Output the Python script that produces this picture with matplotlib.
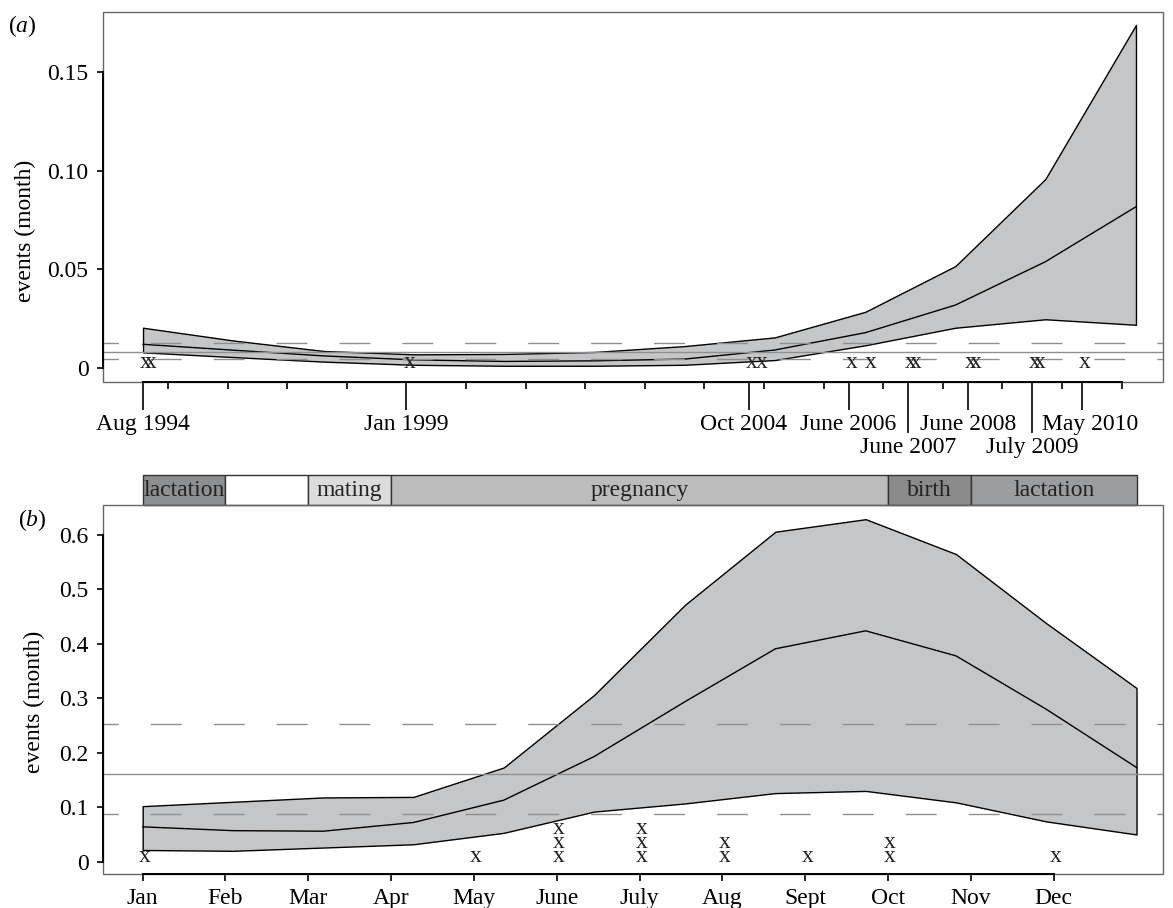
import matplotlib
matplotlib.use('Agg')
import matplotlib.pyplot as plt
from matplotlib.patches import Rectangle
from matplotlib.transforms import ScaledTranslation

plt.rcParams['font.family'] = ['Liberation Serif', 'DejaVu Serif']
plt.rcParams['font.size'] = 17
plt.rcParams['mathtext.fontset'] = 'custom'
plt.rcParams['mathtext.rm'] = 'Liberation Serif'
plt.rcParams['mathtext.it'] = 'Liberation Serif:italic'

##
# (a) monthly event rate through time
##
time_nodes = [1994.58, 1996.10, 1997.61, 1999.12, 2000.64, 2002.15,
              2003.67, 2005.18, 2006.70, 2008.21, 2009.72, 2011.24]
rate_upper_a = [0.0203, 0.0138, 0.0085, 0.0068, 0.0070, 0.0080,
                0.0110, 0.0154, 0.0284, 0.0516, 0.0958, 0.1740]
rate_mid_a = [0.0119, 0.0089, 0.0060, 0.0040, 0.0032, 0.0035,
              0.0044, 0.0090, 0.0178, 0.0318, 0.0538, 0.0817]
rate_lower_a = [0.0078, 0.0054, 0.0031, 0.0015, 0.0010, 0.0010,
                0.0015, 0.0039, 0.0114, 0.0203, 0.0246, 0.0218]
mean_a = 0.0078
ci_a = [0.0043, 0.0124]

# observed events (year, month)
event_dates = [(1994, 8), (1994, 9), (1999, 1), (2004, 10), (2004, 12),
               (2006, 6), (2006, 10), (2007, 6), (2007, 7), (2008, 6),
               (2008, 7), (2009, 7), (2009, 8), (2010, 5)]
date_ticks = [(1994, 8), (1999, 1), (2004, 10), (2006, 6), (2008, 6), (2010, 5)]
date_labels = ['Aug 1994', 'Jan 1999', 'Oct 2004', 'June 2006', 'June 2008', 'May 2010']
date_ticks_low = [(2007, 6), (2009, 7)]
date_labels_low = ['June 2007', 'July 2009']
year_ticks = list(range(1995, 2012))

##
# (b) seasonal event rate
##
month_nodes = [1.0, 2.09, 3.18, 4.27, 5.36, 6.45, 7.55, 8.64, 9.73, 10.82, 11.91, 13.0]
rate_upper_b = [0.102, 0.110, 0.118, 0.119, 0.173, 0.306,
                0.472, 0.606, 0.629, 0.565, 0.438, 0.319]
rate_mid_b = [0.064, 0.057, 0.056, 0.072, 0.113, 0.193,
              0.294, 0.391, 0.424, 0.378, 0.280, 0.173]
rate_lower_b = [0.0215, 0.020, 0.026, 0.032, 0.053, 0.092,
                0.107, 0.126, 0.130, 0.109, 0.074, 0.050]
mean_b = 0.1605
ci_b = [0.0882, 0.253]
month_labels = ['Jan', 'Feb', 'Mar', 'Apr', 'May', 'June',
                'July', 'Aug', 'Sept', 'Oct', 'Nov', 'Dec']

phase_names = ['lactation', '', 'mating', 'pregnancy', 'birth', 'lactation']
phase_start = [1, 2, 3, 4, 10, 11]
phase_end = [2, 3, 4, 10, 11, 13]
phase_colors = ['#8e8f91', '#ffffff', '#dcdcdc', '#bcbcbc', '#8a8a8a', '#9b9c9e']

band_col = '#c5c6c8'
box_col = '#666666'
ref_col = '#8f8f8f'
dash = (11.3, (22.3, 23.0))


def dec_year(d):
    return d[0] + (d[1] - 1) / 12.


def r_box(ax):
    # light frame round the plot region, R style
    ax.add_patch(Rectangle((0, 0), 1, 1, transform=ax.transAxes, fill=False,
                           edgecolor=box_col, linewidth=1, clip_on=False, zorder=5))
    ax.spines[['top', 'right']].set_visible(False)
    for s in ('left', 'bottom'):
        ax.spines[s].set_linewidth(1.4)
        ax.spines[s].set_zorder(6)
    ax.tick_params(axis='y', direction='out', length=4.5, width=1.2, pad=6.0)
    ax.tick_params(axis='x', which='both', direction='out', width=1.2)


fig = plt.figure(figsize=(11.73, 9.08), dpi=100)
ax_a = fig.add_axes([0.0878, 0.5796, 0.9037, 0.4075])
ax_b = fig.add_axes([0.0878, 0.0369, 0.9037, 0.4069])

##
# Panel (a)
##
ax_a.fill_between(time_nodes, rate_lower_a, rate_upper_a, facecolor=band_col,
                  edgecolor='black', linewidth=1.0, zorder=2)
ax_a.plot(time_nodes, rate_mid_a, color='black', linewidth=1.0, zorder=3)
ax_a.axhline(mean_a, color=ref_col, linewidth=1.0, zorder=4)
for v in ci_a:
    ax_a.axhline(v, color=ref_col, linewidth=1.0, linestyle=dash, zorder=4)
for d in event_dates:
    ax_a.annotate('x', (dec_year(d), 0), xytext=(2, 3.6), textcoords='offset points',
                  ha='center', va='center', fontsize=17, color='#222222', zorder=5)

ax_a.set_xlim(1993.908, 2011.694)
ax_a.set_ylim(-0.0071, 0.1807)
r_box(ax_a)
ax_a.spines['left'].set_bounds(0, 0.15)
ax_a.spines['bottom'].set_bounds(dec_year(date_ticks[0]), year_ticks[-1])
ax_a.set_yticks([0, 0.05, 0.10, 0.15], ['0', '0.05', '0.10', '0.15'])
ax_a.set_xticks([dec_year(d) for d in date_ticks], date_labels)
ax_a.set_xticks(year_ticks, minor=True)
ax_a.tick_params(axis='x', which='major', length=20.4, pad=3.0)
ax_a.tick_params(axis='x', which='minor', length=4.8)
# nudge two crowded labels as in the original
for lab, dx in zip(ax_a.get_xticklabels(), [0, 0, -6, 0, 0, 8]):
    lab.set_transform(lab.get_transform() + ScaledTranslation(dx / 100., 0, fig.dpi_scale_trans))

sec = ax_a.secondary_xaxis('bottom')
sec.set_xticks([dec_year(d) for d in date_ticks_low], date_labels_low)
sec.tick_params(axis='x', direction='out', length=36.7, width=1.2, pad=3.0)
sec.spines['bottom'].set_visible(False)

ax_a.set_ylabel('events (month)')
ax_a.yaxis.label.set_verticalalignment('center')
ax_a.yaxis.set_label_coords(-0.0731, 0.407)

##
# Panel (b)
##
ax_b.fill_between(month_nodes, rate_lower_b, rate_upper_b, facecolor=band_col,
                  edgecolor='black', linewidth=1.0, zorder=2)
ax_b.plot(month_nodes, rate_mid_b, color='black', linewidth=1.0, zorder=3)
ax_b.axhline(mean_b, color=ref_col, linewidth=1.0, zorder=4)
for v in ci_b:
    ax_b.axhline(v, color=ref_col, linewidth=1.0, linestyle=dash, zorder=4)

stack = {}
for d in event_dates:
    n = stack.get(d[1], 0)
    stack[d[1]] = n + 1
    ax_b.annotate('x', (d[1], 0), xytext=(1.5, 3.6 + 10.3 * n), textcoords='offset points',
                  ha='center', va='center', fontsize=17, color='#222222', zorder=5)

ax_b.set_xlim(0.521, 13.32)
ax_b.set_ylim(-0.0235, 0.655)
r_box(ax_b)
ax_b.spines['left'].set_bounds(0, 0.6)
ax_b.spines['bottom'].set_bounds(1, 12)
ax_b.set_yticks([0, 0.1, 0.2, 0.3, 0.4, 0.5, 0.6], ['0', '0.1', '0.2', '0.3', '0.4', '0.5', '0.6'])
ax_b.set_xticks(range(1, 13), month_labels)
ax_b.tick_params(axis='x', length=4.7, pad=5.0)

ax_b.set_ylabel('events (month)')
ax_b.yaxis.label.set_verticalalignment('center')
ax_b.yaxis.set_label_coords(-0.0642, 0.4677)

# reproductive phases bar above panel (b)
trans = ax_b.get_xaxis_transform()
for name, x0, x1, col in zip(phase_names, phase_start, phase_end, phase_colors):
    ax_b.add_patch(Rectangle((x0, 1.0), x1 - x0, 0.081, transform=trans, facecolor=col,
                             edgecolor='#333333', linewidth=1.0, clip_on=False))
    ax_b.text((x0 + x1) / 2., 1.0405, name, transform=trans, ha='center', va='center',
              fontsize=17, color='#222222')

fig.text(8 / 1173., 1 - 26 / 908., r'$(\mathit{a})$', ha='left', va='center', fontsize=17)
fig.text(18 / 1173., 1 - 520 / 908., r'$(\mathit{b})$', ha='left', va='center', fontsize=17)

fig.savefig('out.png', dpi=100)
